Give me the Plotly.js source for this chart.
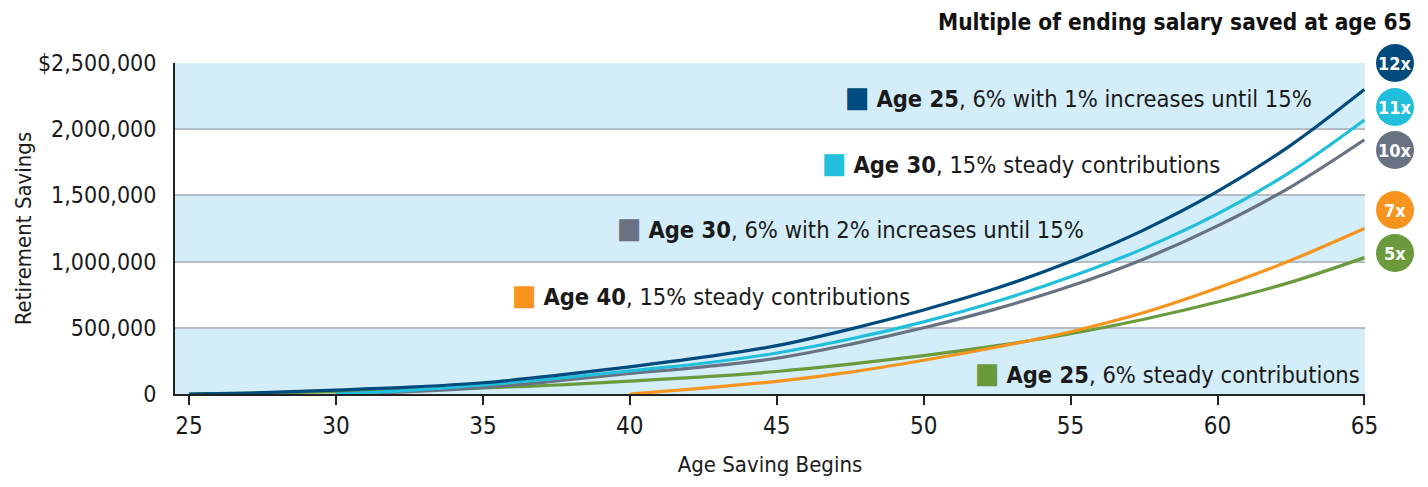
<!DOCTYPE html>
<html>
<head>
<meta charset="utf-8">
<script src="https://cdn.plot.ly/plotly-3.0.1.min.js"></script>
<style>html,body{margin:0;padding:0;background:#fff;}#chart{width:1428px;height:487px;}</style>
</head>
<body>
<div id="chart"></div>
<script>
// ---- Data ----
const ageA = [25, 27.5, 30, 32.5, 35, 37.5, 40, 42.5, 45, 47.5, 50, 52.5, 55, 57.5, 60, 62.5, 65];
const ageB = [30, 32.5, 35, 37.5, 40, 42.5, 45, 47.5, 50, 52.5, 55, 57.5, 60, 62.5, 65];
const ageC = [40, 42.5, 45, 47.5, 50, 52.5, 55, 57.5, 60, 62.5, 65];

const age25Increase = [0, 10000, 30000, 52000, 85000, 140000, 205000, 278000, 365000, 490000, 635000, 800000, 1000000, 1240000, 1530000, 1880000, 2300000];
const age30Steady15 = [0, 28000, 68000, 118000, 175000, 232000, 310000, 415000, 545000, 700000, 885000, 1100000, 1360000, 1680000, 2070000];
const age30Increase = [0, 18000, 48000, 98000, 155000, 205000, 270000, 375000, 500000, 645000, 815000, 1020000, 1270000, 1565000, 1920000];
const age40Steady15 = [0, 45000, 95000, 165000, 255000, 355000, 470000, 615000, 800000, 1010000, 1250000];
const age25Steady6 = [0, 8000, 18000, 30000, 46000, 68000, 97000, 130000, 170000, 225000, 290000, 365000, 455000, 565000, 695000, 845000, 1030000];

const seriesNames = ["Age 25, 6% with 1% increases until 15%", "Age 30, 15% steady contributions", "Age 30, 6% with 2% increases until 15%", "Age 40, 15% steady contributions", "Age 25, 6% steady contributions"];
const labelBold = ["Age 25", "Age 30", "Age 30", "Age 40", "Age 25"];
const labelRest = [", 6% with 1% increases until 15%", ", 15% steady contributions", ", 6% with 2% increases until 15%", ", 15% steady contributions", ", 6% steady contributions"];
const multiples = ["12x", "11x", "10x", "7x", "5x"];

const xTicks = [25, 30, 35, 40, 45, 50, 55, 60, 65];
const yTicks = [0, 500000, 1000000, 1500000, 2000000, 2500000];
const yTickText = ["0", "500,000", "1,000,000", "1,500,000", "2,000,000", "$2,500,000"];

// ---- Styles ----
const colors = ["#004b7d", "#22bfdd", "#687282", "#f7941e", "#6a9a3c"];
const FONT = "'DejaVu Sans Condensed', 'Liberation Sans Narrow', 'Roboto', sans-serif";
const band = "#d3edf9";

const xs = [ageA, ageB, ageB, ageC, ageA];
const ys = [age25Increase, age30Steady15, age30Increase, age40Steady15, age25Steady6];
const order = [4, 3, 2, 1, 0];
const traces = order.map(i => ({
  type: "scatter", mode: "lines", x: xs[i], y: ys[i], name: seriesNames[i],
  line: {color: colors[i], width: 3.2, shape: "spline", smoothing: 1},
  hoverinfo: "skip"
}));

// plot area in px
const L = 175, R = 1365, T = 63, B = 394;
const px = v => (v - L) / (R - L);
const py = v => (B - v) / (B - T);

const shapes = [];
for (let k = 0; k < yTicks.length - 1; k += 2) {
  shapes.push({type: "rect", xref: "paper", yref: "y", x0: 0, x1: 1, y0: yTicks[k], y1: yTicks[k + 1],
    fillcolor: band, line: {width: 0}, layer: "below"});
}
const circleY = [63, 107, 150, 210, 253];
const annotations = [];
circleY.forEach((cy, i) => {
  shapes.push({type: "circle", xref: "paper", yref: "paper", xsizemode: "pixel", ysizemode: "pixel",
    xanchor: px(1395), yanchor: py(cy), x0: -19, x1: 19, y0: -19, y1: 19,
    fillcolor: colors[i], line: {width: 0}, layer: "above"});
  annotations.push({xref: "paper", yref: "paper", x: px(1395), y: py(cy), showarrow: false,
    text: "<b>" + multiples[i] + "</b>", font: {family: FONT, size: 18, color: "#fff"},
    xanchor: "center", yanchor: "middle"});
});

const labelPos = [[843, 97], [820, 163], [615, 228], [510, 295], [973, 373]];
labelPos.forEach((p, i) => {
  annotations.push({xref: "paper", yref: "paper", x: px(p[0]), y: py(p[1]), showarrow: false,
    xanchor: "left", yanchor: "middle",
    text: "<span style='color:" + colors[i] + ";font-size:29px'>■</span> <b>" + labelBold[i] + "</b>" + labelRest[i],
    font: {family: FONT, size: 23.5, color: "#1a1a1a"}});
});

annotations.push({xref: "paper", yref: "paper", x: px(1414), y: py(22), showarrow: false,
  xanchor: "right", yanchor: "middle", text: "<b>Multiple of ending salary saved at age 65</b>",
  font: {family: FONT, size: 22.5, color: "#111"}});

const layout = {
  width: 1428, height: 487,
  margin: {l: L, r: 1428 - R, t: T, b: 487 - B},
  paper_bgcolor: "#fff", plot_bgcolor: "#fff",
  showlegend: false,
  font: {family: FONT, color: "#1a1a1a"},
  xaxis: {
    range: [24.52, 65.02], tickvals: xTicks, ticktext: xTicks.map(String),
    ticks: "outside", ticklen: 9, tickwidth: 2, tickcolor: "#222",
    showline: true, linecolor: "#222", linewidth: 2, showgrid: false, zeroline: false,
    tickfont: {family: FONT, size: 24, color: "#1a1a1a"},
    title: {text: "Age Saving Begins", font: {family: FONT, size: 22, color: "#1a1a1a"}, standoff: 18}
  },
  yaxis: {
    range: [0, 2500000], tickvals: yTicks, ticktext: yTickText,
    ticks: "", showline: true, linecolor: "#222", linewidth: 2,
    showgrid: true, gridcolor: "#b5bec6", gridwidth: 2, zeroline: false,
    ticklabelstandoff: 12,
    tickfont: {family: FONT, size: 23, color: "#1a1a1a"},
    title: {text: "Retirement Savings", font: {family: FONT, size: 22, color: "#1a1a1a"}, standoff: 0}
  },
  shapes: shapes,
  annotations: annotations
};

Plotly.newPlot("chart", traces, layout, {displayModeBar: false, staticPlot: true});
</script>
</body>
</html>
